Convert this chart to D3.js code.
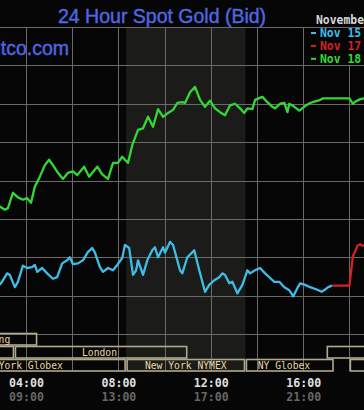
<!DOCTYPE html>
<html>
<head>
<meta charset="utf-8">
<script src="https://cdn.jsdelivr.net/npm/d3@7"></script>
<style>
  body { margin: 0; background: #060606; overflow: hidden; }
  svg { display: block; }
</style>
</head>
<body>
<div id="chart"></div>
<script>
// Bid prices, [ET time, price]
const nov15 = [
  ["02:52", 1336.4], ["03:00", 1337.0], ["03:11", 1337.9], ["03:18", 1337.7], ["03:31", 1336.1],
  ["03:39", 1336.8], ["03:52", 1338.9], ["04:03", 1338.6], ["04:16", 1338.7], ["04:23", 1339.0],
  ["04:29", 1338.1], ["04:42", 1338.6], ["04:55", 1337.9], ["05:10", 1337.2], ["05:21", 1337.4],
  ["05:34", 1339.2], ["05:47", 1339.6], ["05:54", 1340.0], ["06:02", 1339.1], ["06:15", 1339.2],
  ["06:28", 1339.6], ["06:41", 1340.7], ["06:52", 1341.2], ["06:59", 1340.6], ["07:12", 1338.7],
  ["07:20", 1338.1], ["07:33", 1338.6], ["07:46", 1338.3], ["07:57", 1339.0], ["08:10", 1339.9],
  ["08:17", 1341.6], ["08:28", 1341.2], ["08:38", 1337.7], ["08:46", 1338.3], ["08:51", 1339.6],
  ["09:04", 1337.7], ["09:15", 1339.6], ["09:28", 1340.9], ["09:35", 1341.3], ["09:43", 1340.0],
  ["09:56", 1341.3], ["10:01", 1340.6], ["10:14", 1342.0], ["10:22", 1341.6], ["10:33", 1339.6],
  ["10:40", 1338.3], ["10:46", 1337.9], ["10:59", 1340.0], ["11:17", 1340.9], ["11:30", 1338.3],
  ["11:45", 1335.5], ["11:56", 1336.4], ["12:09", 1337.0], ["12:22", 1337.4], ["12:30", 1337.9],
  ["12:37", 1337.7], ["12:48", 1336.6], ["12:56", 1336.8], ["13:09", 1335.3], ["13:22", 1336.4],
  ["13:29", 1337.4], ["13:35", 1338.3], ["13:42", 1337.9], ["13:55", 1338.3], ["14:08", 1338.6],
  ["14:21", 1337.9], ["14:34", 1337.3], ["14:45", 1336.8], ["14:58", 1336.8], ["15:11", 1336.1],
  ["15:24", 1335.7], ["15:34", 1334.9], ["15:45", 1336.0], ["15:52", 1336.6], ["16:05", 1336.4],
  ["16:18", 1336.1], ["16:35", 1335.8], ["16:48", 1335.5], ["16:57", 1335.8], ["17:05", 1336.1],
  ["17:15", 1336.3]
];

const nov17 = [
  ["17:15", 1336.3], ["18:00", 1336.3], ["18:09", 1340.1], ["18:15", 1340.8], ["18:21", 1341.5],
  ["18:28", 1341.7], ["18:33", 1341.5], ["18:39", 1341.6]
];

const nov18 = [
  ["02:52", 1346.6], ["03:05", 1346.2], ["03:13", 1346.4], ["03:26", 1348.4], ["03:39", 1347.8],
  ["03:52", 1347.5], ["04:03", 1347.7], ["04:13", 1347.1], ["04:23", 1349.2], ["04:36", 1350.5],
  ["04:49", 1352.0], ["05:00", 1352.7], ["05:10", 1352.0], ["05:23", 1351.0], ["05:36", 1350.2],
  ["05:49", 1351.0], ["06:02", 1351.2], ["06:13", 1350.7], ["06:31", 1351.8], ["06:44", 1350.5],
  ["07:05", 1351.8], ["07:18", 1350.8], ["07:33", 1350.2], ["07:46", 1352.3], ["07:59", 1352.3],
  ["08:10", 1353.1], ["08:17", 1352.7], ["08:25", 1352.3], ["08:36", 1354.6], ["08:51", 1356.6],
  ["09:04", 1356.8], ["09:17", 1358.3], ["09:30", 1357.0], ["09:43", 1359.3], ["09:56", 1358.3],
  ["10:09", 1358.8], ["10:22", 1359.2], ["10:33", 1360.1], ["10:46", 1360.2], ["10:53", 1360.1],
  ["11:06", 1361.5], ["11:19", 1362.2], ["11:32", 1360.5], ["11:45", 1359.6], ["11:58", 1360.4],
  ["12:11", 1359.4], ["12:24", 1358.9], ["12:37", 1358.5], ["12:50", 1359.8], ["13:03", 1360.0],
  ["13:16", 1359.4], ["13:27", 1358.8], ["13:35", 1359.4], ["13:48", 1359.3], ["13:55", 1360.5],
  ["14:14", 1360.9], ["14:27", 1360.2], ["14:40", 1359.6], ["14:47", 1359.4], ["15:00", 1360.0],
  ["15:11", 1360.1], ["15:19", 1358.9], ["15:24", 1360.0], ["15:37", 1359.6], ["15:50", 1359.1],
  ["16:05", 1359.7], ["16:18", 1360.1], ["16:31", 1360.3], ["16:39", 1360.4], ["16:52", 1360.7],
  ["17:15", 1360.7], ["18:00", 1360.7], ["18:09", 1360.0], ["18:16", 1360.3], ["18:28", 1360.6],
  ["18:39", 1360.7]
];

const seriesNames = ["Nov 15", "Nov 17", "Nov 18"];
const gridTimes = ["00:00", "02:00", "04:00", "06:00", "08:00", "10:00", "12:00",
                   "14:00", "16:00", "18:00", "20:00", "22:00", "24:00"];
const timeTicks = ["04:00", "08:00", "12:00", "16:00"];
const priceTicks = [1330, 1335, 1340, 1345, 1350, 1355, 1360, 1365, 1370];
const nyHours = ["08:20", "13:30"];

// trading sessions: row 0 Asia, row 1 Europe, row 2 New York
const sessions = [
  { name: "Hong Kong",       row: 0, start: "-2:00", end: "04:30", label: "02:11" },
  { name: "Sydney",          row: 1, start: "-2:00", end: "03:30", label: "01:00" },
  { name: "London",          row: 1, start: "03:30", end: "11:00", label: "07:11" },
  { name: "Sydney",          row: 1, start: "17:00", end: "24:00", label: "20:30" },
  { name: "New York Globex", row: 2, start: "-2:00", end: "08:20", label: "03:42" },
  { name: "New York NYMEX",  row: 2, start: "08:20", end: "13:30", label: "10:55" },
  { name: "NY Globex",       row: 2, start: "13:30", end: "17:20", label: "15:10" },
  { name: "NY Globex",       row: 2, start: "18:00", end: "24:00", label: "21:00" }
];

const W = 364, H = 410;
const plotTop = 27, plotBottom = 334, sessBottom = 371;

const parseT = s => {
  const [h, m] = s.split(":").map(Number);
  return new Date(2010, 10, 18, h, m);
};

const x = d3.scaleTime()
  .domain([parseT("04:00"), parseT("16:00")])
  .range([26, 303.2]);

const y = d3.scaleLinear()
  .domain([1330, 1370])
  .range([plotBottom, plotTop]);

const color = d3.scaleOrdinal()
  .domain(seriesNames)
  .range(["#3fbde6", "#d42222", "#34d834"]);

const svg = d3.select("#chart")
  .append("svg")
  .attr("width", W)
  .attr("height", H)
  .style("background", "#060606");

// New York hours shading
svg.append("rect")
  .attr("x", x(parseT(nyHours[0])))
  .attr("y", plotTop)
  .attr("width", x(parseT(nyHours[1])) - x(parseT(nyHours[0])))
  .attr("height", sessBottom - plotTop)
  .attr("fill", "#1b1b19");

// vertical grid
const vGrid = svg.append("g")
  .attr("transform", `translate(0,${sessBottom})`)
  .call(d3.axisBottom(x)
    .tickValues(gridTimes.map(parseT))
    .tickSize(-(sessBottom - plotTop))
    .tickFormat(""));
vGrid.select(".domain").remove();
vGrid.selectAll("line")
  .attr("stroke", "#6a6a6a")
  .attr("shape-rendering", "crispEdges");

// horizontal grid
const hGrid = svg.append("g")
  .call(d3.axisLeft(y)
    .tickValues(priceTicks)
    .tickSize(-W)
    .tickFormat(""));
hGrid.select(".domain").remove();
hGrid.selectAll("line")
  .attr("stroke", "#6a6a6a")
  .attr("shape-rendering", "crispEdges");

// session boxes
const rowTop = [333.5, 346.5, 359.5];
const charW = 5.84;
const sess = svg.append("g")
  .selectAll("g")
  .data(sessions)
  .enter()
  .append("g");

sess.append("rect")
  .attr("x", d => x(parseT(d.start)) + 1)
  .attr("y", d => rowTop[d.row])
  .attr("width", d => x(parseT(d.end)) - x(parseT(d.start)) - 2)
  .attr("height", 11.5)
  .attr("fill", "none")
  .attr("stroke", "#b0a98c")
  .attr("stroke-width", 1.6);

// only labels that reach into the visible window
sess.filter(d => {
    const cx = x(parseT(d.label)), half = d.name.length * charW / 2;
    return cx + half > 0 && cx - half < W;
  })
  .append("text")
  .attr("x", d => x(parseT(d.label)))
  .attr("y", d => rowTop[d.row] + 9.3)
  .attr("text-anchor", "middle")
  .style("font-family", "'DejaVu Sans Mono', monospace")
  .style("font-size", "9.7px")
  .style("fill", "#e8d8a6")
  .text(d => d.name);

// price lines
const line = d3.line()
  .x(d => x(parseT(d[0])))
  .y(d => y(d[1]));

[nov15, nov17, nov18].forEach((series, i) => {
  svg.append("path")
    .datum(series)
    .attr("fill", "none")
    .attr("stroke", color(seriesNames[i]))
    .attr("stroke-width", 2.3)
    .attr("stroke-linejoin", "round")
    .attr("d", line);
});

// time axis, ET on top and GMT below
const fmt = d3.timeFormat("%H:%M");
const etAxis = svg.append("g")
  .attr("transform", `translate(0,${sessBottom + 1})`)
  .call(d3.axisBottom(x).tickValues(timeTicks.map(parseT)).tickSize(0).tickPadding(7).tickFormat(fmt));
etAxis.select(".domain").remove();
etAxis.selectAll("text")
  .style("font-family", "'DejaVu Sans Mono', monospace")
  .style("font-weight", "bold")
  .style("font-size", "11.6px")
  .style("fill", "#e0e0e0");

const gmtAxis = svg.append("g")
  .attr("transform", `translate(0,${sessBottom + 1})`)
  .call(d3.axisBottom(x).tickValues(timeTicks.map(parseT)).tickSize(0).tickPadding(21)
    .tickFormat(d => fmt(d3.timeHour.offset(d, 5))));
gmtAxis.select(".domain").remove();
gmtAxis.selectAll("text")
  .style("font-family", "'DejaVu Sans Mono', monospace")
  .style("font-weight", "bold")
  .style("font-size", "11.6px")
  .style("fill", "#666666");

// legend
const legend = svg.append("g");
legend.append("rect")
  .attr("x", 305)
  .attr("y", 28)
  .attr("width", W - 305)
  .attr("height", 37)
  .attr("fill", "#060606");

legend.append("text")
  .attr("x", 316)
  .attr("y", 24)
  .style("font-family", "'DejaVu Sans Mono', monospace")
  .style("font-weight", "bold")
  .style("font-size", "11.4px")
  .style("fill", "#d8d8d8")
  .text("November");

seriesNames.forEach((name, i) => {
  const cy = 33 + i * 12.9;
  legend.append("rect")
    .attr("x", 311)
    .attr("y", cy - 1)
    .attr("width", 5)
    .attr("height", 2)
    .attr("fill", color(name));
  legend.append("text")
    .attr("x", 320)
    .attr("y", cy + 4.2)
    .style("font-family", "'DejaVu Sans Mono', monospace")
    .style("font-weight", "bold")
    .style("font-size", "11.4px")
    .style("fill", color(name))
    .text(name);
});

// title and site name
svg.append("text")
  .attr("x", 58)
  .attr("y", 22.5)
  .style("font-family", "'Liberation Sans', Arial, sans-serif")
  .style("font-size", "19.5px")
  .style("fill", "#5066e2")
  .style("stroke", "#5066e2")
  .style("stroke-width", "0.4px")
  .text("24 Hour Spot Gold (Bid)");

svg.append("text")
  .attr("x", 69)
  .attr("y", 55)
  .attr("text-anchor", "end")
  .style("font-family", "'Liberation Sans', Arial, sans-serif")
  .style("font-size", "19.5px")
  .style("fill", "#5066e2")
  .style("stroke", "#5066e2")
  .style("stroke-width", "0.4px")
  .text("www.kitco.com");
</script>
</body>
</html>
